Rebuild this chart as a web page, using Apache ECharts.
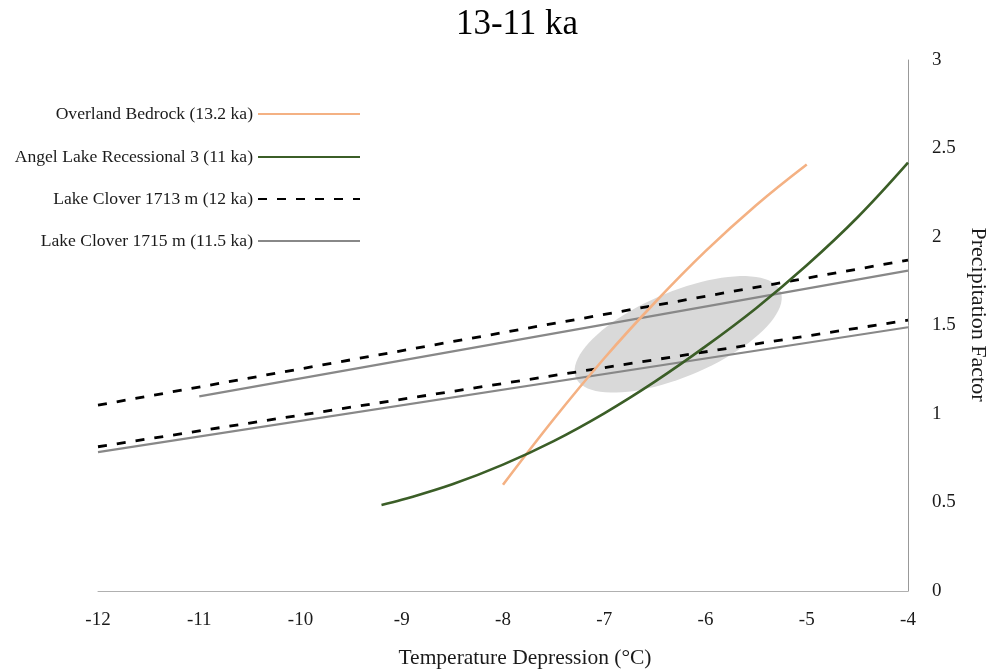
<!DOCTYPE html>
<html>
<head>
<meta charset="utf-8">
<script src="https://cdn.jsdelivr.net/npm/echarts@6/dist/echarts.min.js"></script>
<style>html,body{margin:0;padding:0;background:#fff}#c{width:996px;height:670px}</style>
</head>
<body>
<div id="c"></div>
<script>
const titleText = '13-11 ka';
const xName = 'Temperature Depression (°C)';
const yName = 'Precipitation Factor';
const seriesNames = ['Overland Bedrock (13.2 ka)', 'Angel Lake Recessional 3 (11 ka)', 'Lake Clover 1713 m (12 ka)', 'Lake Clover 1715 m (11.5 ka)'];

const overlandBedrock = [[-8, 0.60], [-7.5, 0.97], [-7, 1.315], [-6.5, 1.63], [-6, 1.92], [-5.5, 2.18], [-5, 2.41]];
const angelLake = [[-9.2, 0.486], [-9, 0.515], [-8.5, 0.603], [-8, 0.714], [-7.5, 0.847], [-7, 1.004], [-6.5, 1.183], [-6, 1.382], [-5.5, 1.598], [-5, 1.84], [-4.5, 2.11], [-4, 2.42]];
const clover1713Upper = [[-12, 1.05], [-4, 1.87]];
const clover1713Lower = [[-12, 0.815], [-4, 1.53]];
const clover1715Upper = [[-11, 1.10], [-4, 1.81]];
const clover1715Lower = [[-12, 0.785], [-4, 1.49]];

// overlap ellipse: centre and two semi-axis vectors (data units)
const ellipseCenter = [-6.27, 1.45];
const ellipseAxisA = [1.01, 0.245];
const ellipseAxisB = [0.164, -0.22];

const serif = '"Liberation Serif", "Times New Roman", serif';
const colors = { orange: '#F4B183', green: '#3B5E27', black: '#000000', gray: '#888888' };

const chart = echarts.init(document.getElementById('c'), null, { renderer: 'canvas' });

function legendFor(name, top) {
  return {
    data: [name], right: 630, top: top, orient: 'horizontal', align: 'right',
    itemWidth: 102, itemHeight: 14, itemGap: 0,
    itemStyle: { opacity: 0 },
    textStyle: { fontFamily: serif, fontSize: 17.6, color: '#1a1a1a' }
  };
}

const option = {
  animation: false,
  backgroundColor: '#ffffff',
  title: {
    text: titleText, left: 512, top: 2, textAlign: 'center',
    textStyle: { fontFamily: serif, fontSize: 35, fontWeight: 'normal', color: '#000' }
  },
  legend: [
    legendFor(seriesNames[0], 100),
    legendFor(seriesNames[1], 143),
    legendFor(seriesNames[2], 185),
    legendFor(seriesNames[3], 227)
  ],
  grid: { left: 98, right: 88, top: 60, bottom: 79, outerBoundsMode: 'none' },
  xAxis: {
    type: 'value', min: -12, max: -4, interval: 1,
    name: xName, nameLocation: 'middle', nameGap: 56,
    nameTextStyle: { fontFamily: serif, fontSize: 21.5, color: '#1a1a1a', padding: [0, 0, 0, 44] },
    axisLine: { show: true, onZero: false, lineStyle: { color: '#b0b0b0', width: 1 } },
    axisTick: { show: false },
    splitLine: { show: false },
    axisLabel: { fontFamily: serif, fontSize: 19, color: '#1a1a1a', margin: 20 }
  },
  yAxis: {
    type: 'value', min: 0, max: 3, interval: 0.5, position: 'right',
    name: yName, nameLocation: 'middle', nameGap: 46, nameRotate: -90,
    nameTextStyle: { fontFamily: serif, fontSize: 22, color: '#1a1a1a', padding: [0, 22, 0, 0] },
    axisLine: { show: true, lineStyle: { color: '#999999', width: 1 } },
    axisTick: { show: false },
    splitLine: { show: false },
    axisLabel: { fontFamily: serif, fontSize: 19, color: '#1a1a1a', margin: 24 }
  },
  series: [
    {
      type: 'custom', silent: true, z: 1,
      data: [ellipseCenter],
      encode: { x: 0, y: 1 },
      renderItem: function (params, api) {
        const pts = [];
        const n = 90;
        for (let i = 0; i < n; i++) {
          const t = i / n * Math.PI * 2;
          const x = ellipseCenter[0] + Math.cos(t) * ellipseAxisA[0] + Math.sin(t) * ellipseAxisB[0];
          const y = ellipseCenter[1] + Math.cos(t) * ellipseAxisA[1] + Math.sin(t) * ellipseAxisB[1];
          pts.push(api.coord([x, y]));
        }
        return { type: 'polygon', shape: { points: pts }, style: { fill: '#d9d9d9', stroke: null } };
      }
    },
    {
      name: seriesNames[3], type: 'line', data: clover1715Upper, symbol: 'none', z: 3,
      lineStyle: { color: colors.gray, width: 2.2 }, itemStyle: { color: colors.gray }
    },
    {
      name: seriesNames[3], type: 'line', data: clover1715Lower, symbol: 'none', z: 3,
      lineStyle: { color: colors.gray, width: 2.2 }, itemStyle: { color: colors.gray }
    },
    {
      name: seriesNames[2], type: 'line', data: clover1713Upper, symbol: 'none', z: 4,
      lineStyle: { color: colors.black, width: 2.8, type: [9, 10] }, itemStyle: { color: colors.black }
    },
    {
      name: seriesNames[2], type: 'line', data: clover1713Lower, symbol: 'none', z: 4,
      lineStyle: { color: colors.black, width: 2.8, type: [9, 10] }, itemStyle: { color: colors.black }
    },
    {
      name: seriesNames[0], type: 'line', data: overlandBedrock, symbol: 'none', smooth: 0.4, z: 5,
      lineStyle: { color: colors.orange, width: 2.6 }, itemStyle: { color: colors.orange }
    },
    {
      name: seriesNames[1], type: 'line', data: angelLake, symbol: 'none', smooth: 0.4, z: 5,
      lineStyle: { color: colors.green, width: 2.6 }, itemStyle: { color: colors.green }
    }
  ]
};
chart.setOption(option);
</script>
</body>
</html>
